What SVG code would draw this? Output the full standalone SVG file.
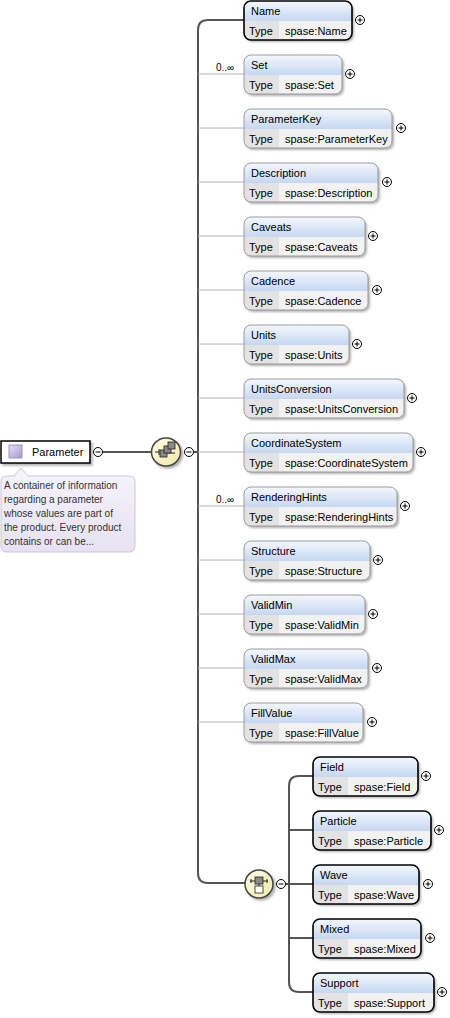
<svg xmlns="http://www.w3.org/2000/svg" width="450" height="1018" viewBox="0 0 450 1018">
<defs>
<linearGradient id="hdr" x1="0" y1="0" x2="0" y2="1"><stop offset="0" stop-color="#f4f8fe"/><stop offset="1" stop-color="#c6d7f1"/></linearGradient>
<linearGradient id="bubble" x1="0" y1="0" x2="1" y2="1"><stop offset="0" stop-color="#fffde8"/><stop offset="1" stop-color="#f1e9a8"/></linearGradient>
<linearGradient id="doc" x1="0" y1="0" x2="0" y2="1"><stop offset="0" stop-color="#f6f4fb"/><stop offset="1" stop-color="#e6e2f2"/></linearGradient>
<linearGradient id="ico" x1="0" y1="0" x2="1" y2="1"><stop offset="0" stop-color="#e6def6"/><stop offset="1" stop-color="#a99bd0"/></linearGradient>
<filter id="sh" x="-10%" y="-10%" width="130%" height="140%"><feDropShadow dx="2" dy="2" stdDeviation="1.2" flood-color="#000" flood-opacity="0.3"/></filter>
<g id="plus"><circle r="4.5" fill="#fff" stroke="#000" stroke-width="1"/><path d="M-2.5,0H2.5M0,-2.5V2.5" stroke="#000" stroke-width="1"/></g>
<g id="minus"><circle r="4.5" fill="#fff" stroke="#000" stroke-width="1"/><path d="M-2.5,0H2.5" stroke="#000" stroke-width="1"/></g>
</defs>
<style>
text{font-family:"Liberation Sans",Arial,sans-serif;font-size:11px;fill:#000}
.doc{font-size:10px;fill:#333}
.hd{fill:url(#hdr)}
.tc{fill:#e3e3e3}
.frm{fill:none;stroke:#9a9a9a;stroke-width:1}
.frm.req{stroke:#000;stroke-width:1.6}
.bg{fill:#f2f2f2;filter:url(#sh)}
.br{fill:none;stroke:#b4b4b4;stroke-width:1}
.sp{fill:none;stroke:#555;stroke-width:2}
</style>

<g id="connectors">
<path class="sp" d="M103,452H151"/>
<path class="sp" d="M194,452H198"/>
<path class="sp" d="M244,20H208Q198,20 198,30V873Q198,883 208,883H245"/>
<path class="br" d="M198,74H244M198,128H244M198,182H244M198,236H244M198,290H244M198,344H244M198,398H244M198,452H244M198,506H244M198,560H244M198,614H244M198,668H244M198,722H244"/>
<path class="sp" d="M286,884H289"/>
<path class="sp" d="M313,776H299Q289,776 289,786V982Q289,992 299,992H313M289,830H313M289,884H313M289,938H313"/>
<text x="216" y="71" style="font-size:10px">0..∞</text>
<text x="216" y="503" style="font-size:10px">0..∞</text>
</g>

<g id="Parameter">
<rect x="1" y="441" width="89" height="22" fill="#fff" stroke="#000" stroke-width="1.5" filter="url(#sh)"/>
<rect x="9" y="445" width="13" height="13" fill="url(#ico)" stroke="#8a7fb0" stroke-width="0.8"/>
<text x="32" y="456">Parameter</text>
<use href="#minus" x="98" y="452"/>
</g>

<g id="Parameter-doc">
<path d="M7,476H14L21,468L28,476H129Q135,476 135,482V546Q135,552 129,552H7Q1,552 1,546V482Q1,476 7,476Z" fill="url(#doc)" stroke="#cbc5dd" stroke-width="1"/>
<text class="doc" x="4" y="489">A container of information</text>
<text class="doc" x="4" y="503">regarding a parameter</text>
<text class="doc" x="4" y="517">whose values are part of</text>
<text class="doc" x="4" y="531">the product. Every product</text>
<text class="doc" x="4" y="545">contains or can be...</text>
</g>

<g id="sequence">
<ellipse cx="166" cy="452" rx="14.5" ry="14" fill="url(#bubble)" stroke="#444" stroke-width="1.5" filter="url(#sh)"/>
<path d="M155,452H159M159,449V455" stroke="#222" stroke-width="1" fill="none"/>
<path d="M160,453H175" stroke="#222" stroke-width="1"/>
<rect x="160" y="450" width="7" height="7" fill="#8a8a8a" stroke="#222" stroke-width="0.8"/>
<rect x="164" y="446" width="7" height="7" fill="#8a8a8a" stroke="#222" stroke-width="0.8"/>
<rect x="168" y="442" width="7" height="7" fill="#8a8a8a" stroke="#222" stroke-width="0.8"/>
<use href="#minus" x="189" y="452"/>
</g>

<g id="choice">
<ellipse cx="259" cy="884" rx="14" ry="14" fill="url(#bubble)" stroke="#444" stroke-width="1.5" filter="url(#sh)"/>
<path d="M250,881H268M251,879V883M267,879V883M259,884V886" stroke="#222" stroke-width="1" fill="none"/>
<rect x="255" y="877" width="8" height="7" fill="#8a8a8a" stroke="#222" stroke-width="0.8"/>
<rect x="255" y="886" width="8" height="7" fill="#fff" stroke="#222" stroke-width="0.8"/>
<use href="#minus" x="281" y="884"/>
</g>

<g id="Name">
<rect class="bg" x="244" y="1" width="108" height="39" rx="7"/>
<path class="hd" d="M251,1H345Q352,1 352,8V21H244V8Q244,1 251,1Z"/>
<path class="tc" d="M244,21H279V40H251Q244,40 244,33Z"/>
<rect class="frm req" x="244" y="1" width="108" height="39" rx="7"/>
<text x="251" y="15">Name</text><text x="249" y="35">Type</text><text x="285" y="35">spase:Name</text>
<use href="#plus" x="360" y="20"/>
</g>

<g id="Set">
<rect class="bg" x="244" y="55" width="98" height="39" rx="7"/>
<path class="hd" d="M251,55H335Q342,55 342,62V75H244V62Q244,55 251,55Z"/>
<path class="tc" d="M244,75H279V94H251Q244,94 244,87Z"/>
<rect class="frm" x="244" y="55" width="98" height="39" rx="7"/>
<text x="251" y="69">Set</text><text x="249" y="89">Type</text><text x="285" y="89">spase:Set</text>
<use href="#plus" x="350" y="74"/>
</g>

<g id="ParameterKey">
<rect class="bg" x="244" y="109" width="148" height="39" rx="7"/>
<path class="hd" d="M251,109H385Q392,109 392,116V129H244V116Q244,109 251,109Z"/>
<path class="tc" d="M244,129H279V148H251Q244,148 244,141Z"/>
<rect class="frm" x="244" y="109" width="148" height="39" rx="7"/>
<text x="251" y="123">ParameterKey</text><text x="249" y="143">Type</text><text x="285" y="143">spase:ParameterKey</text>
<use href="#plus" x="401" y="128"/>
</g>

<g id="Description">
<rect class="bg" x="244" y="163" width="134" height="39" rx="7"/>
<path class="hd" d="M251,163H371Q378,163 378,170V183H244V170Q244,163 251,163Z"/>
<path class="tc" d="M244,183H279V202H251Q244,202 244,195Z"/>
<rect class="frm" x="244" y="163" width="134" height="39" rx="7"/>
<text x="251" y="177">Description</text><text x="249" y="197">Type</text><text x="285" y="197">spase:Description</text>
<use href="#plus" x="387" y="182"/>
</g>

<g id="Caveats">
<rect class="bg" x="244" y="217" width="121" height="39" rx="7"/>
<path class="hd" d="M251,217H358Q365,217 365,224V237H244V224Q244,217 251,217Z"/>
<path class="tc" d="M244,237H279V256H251Q244,256 244,249Z"/>
<rect class="frm" x="244" y="217" width="121" height="39" rx="7"/>
<text x="251" y="231">Caveats</text><text x="249" y="251">Type</text><text x="285" y="251">spase:Caveats</text>
<use href="#plus" x="373" y="236"/>
</g>

<g id="Cadence">
<rect class="bg" x="244" y="271" width="124" height="39" rx="7"/>
<path class="hd" d="M251,271H361Q368,271 368,278V291H244V278Q244,271 251,271Z"/>
<path class="tc" d="M244,291H279V310H251Q244,310 244,303Z"/>
<rect class="frm" x="244" y="271" width="124" height="39" rx="7"/>
<text x="251" y="285">Cadence</text><text x="249" y="305">Type</text><text x="285" y="305">spase:Cadence</text>
<use href="#plus" x="377" y="290"/>
</g>

<g id="Units">
<rect class="bg" x="244" y="325" width="105" height="39" rx="7"/>
<path class="hd" d="M251,325H342Q349,325 349,332V345H244V332Q244,325 251,325Z"/>
<path class="tc" d="M244,345H279V364H251Q244,364 244,357Z"/>
<rect class="frm" x="244" y="325" width="105" height="39" rx="7"/>
<text x="251" y="339">Units</text><text x="249" y="359">Type</text><text x="285" y="359">spase:Units</text>
<use href="#plus" x="357" y="344"/>
</g>

<g id="UnitsConversion">
<rect class="bg" x="244" y="379" width="160" height="39" rx="7"/>
<path class="hd" d="M251,379H397Q404,379 404,386V399H244V386Q244,379 251,379Z"/>
<path class="tc" d="M244,399H279V418H251Q244,418 244,411Z"/>
<rect class="frm" x="244" y="379" width="160" height="39" rx="7"/>
<text x="251" y="393">UnitsConversion</text><text x="249" y="413">Type</text><text x="285" y="413">spase:UnitsConversion</text>
<use href="#plus" x="412" y="398"/>
</g>

<g id="CoordinateSystem">
<rect class="bg" x="244" y="433" width="169" height="39" rx="7"/>
<path class="hd" d="M251,433H406Q413,433 413,440V453H244V440Q244,433 251,433Z"/>
<path class="tc" d="M244,453H279V472H251Q244,472 244,465Z"/>
<rect class="frm" x="244" y="433" width="169" height="39" rx="7"/>
<text x="251" y="447">CoordinateSystem</text><text x="249" y="467">Type</text><text x="285" y="467">spase:CoordinateSystem</text>
<use href="#plus" x="421" y="452"/>
</g>

<g id="RenderingHints">
<rect class="bg" x="244" y="487" width="153" height="39" rx="7"/>
<path class="hd" d="M251,487H390Q397,487 397,494V507H244V494Q244,487 251,487Z"/>
<path class="tc" d="M244,507H279V526H251Q244,526 244,519Z"/>
<rect class="frm" x="244" y="487" width="153" height="39" rx="7"/>
<text x="251" y="501">RenderingHints</text><text x="249" y="521">Type</text><text x="285" y="521">spase:RenderingHints</text>
<use href="#plus" x="405" y="506"/>
</g>

<g id="Structure">
<rect class="bg" x="244" y="541" width="126" height="39" rx="7"/>
<path class="hd" d="M251,541H363Q370,541 370,548V561H244V548Q244,541 251,541Z"/>
<path class="tc" d="M244,561H279V580H251Q244,580 244,573Z"/>
<rect class="frm" x="244" y="541" width="126" height="39" rx="7"/>
<text x="251" y="555">Structure</text><text x="249" y="575">Type</text><text x="285" y="575">spase:Structure</text>
<use href="#plus" x="378" y="560"/>
</g>

<g id="ValidMin">
<rect class="bg" x="244" y="595" width="121" height="39" rx="7"/>
<path class="hd" d="M251,595H358Q365,595 365,602V615H244V602Q244,595 251,595Z"/>
<path class="tc" d="M244,615H279V634H251Q244,634 244,627Z"/>
<rect class="frm" x="244" y="595" width="121" height="39" rx="7"/>
<text x="251" y="609">ValidMin</text><text x="249" y="629">Type</text><text x="285" y="629">spase:ValidMin</text>
<use href="#plus" x="373" y="614"/>
</g>

<g id="ValidMax">
<rect class="bg" x="244" y="649" width="124" height="39" rx="7"/>
<path class="hd" d="M251,649H361Q368,649 368,656V669H244V656Q244,649 251,649Z"/>
<path class="tc" d="M244,669H279V688H251Q244,688 244,681Z"/>
<rect class="frm" x="244" y="649" width="124" height="39" rx="7"/>
<text x="251" y="663">ValidMax</text><text x="249" y="683">Type</text><text x="285" y="683">spase:ValidMax</text>
<use href="#plus" x="377" y="668"/>
</g>

<g id="FillValue">
<rect class="bg" x="244" y="703" width="119" height="39" rx="7"/>
<path class="hd" d="M251,703H356Q363,703 363,710V723H244V710Q244,703 251,703Z"/>
<path class="tc" d="M244,723H279V742H251Q244,742 244,735Z"/>
<rect class="frm" x="244" y="703" width="119" height="39" rx="7"/>
<text x="251" y="717">FillValue</text><text x="249" y="737">Type</text><text x="285" y="737">spase:FillValue</text>
<use href="#plus" x="372" y="722"/>
</g>

<g id="Field">
<rect class="bg" x="313" y="757" width="105" height="39" rx="7"/>
<path class="hd" d="M320,757H411Q418,757 418,764V777H313V764Q313,757 320,757Z"/>
<path class="tc" d="M313,777H348V796H320Q313,796 313,789Z"/>
<rect class="frm req" x="313" y="757" width="105" height="39" rx="7"/>
<text x="320" y="771">Field</text><text x="318" y="791">Type</text><text x="354" y="791">spase:Field</text>
<use href="#plus" x="426" y="776"/>
</g>

<g id="Particle">
<rect class="bg" x="313" y="811" width="118" height="39" rx="7"/>
<path class="hd" d="M320,811H424Q431,811 431,818V831H313V818Q313,811 320,811Z"/>
<path class="tc" d="M313,831H348V850H320Q313,850 313,843Z"/>
<rect class="frm req" x="313" y="811" width="118" height="39" rx="7"/>
<text x="320" y="825">Particle</text><text x="318" y="845">Type</text><text x="354" y="845">spase:Particle</text>
<use href="#plus" x="439" y="830"/>
</g>

<g id="Wave">
<rect class="bg" x="313" y="865" width="106" height="39" rx="7"/>
<path class="hd" d="M320,865H412Q419,865 419,872V885H313V872Q313,865 320,865Z"/>
<path class="tc" d="M313,885H348V904H320Q313,904 313,897Z"/>
<rect class="frm req" x="313" y="865" width="106" height="39" rx="7"/>
<text x="320" y="879">Wave</text><text x="318" y="899">Type</text><text x="354" y="899">spase:Wave</text>
<use href="#plus" x="428" y="884"/>
</g>

<g id="Mixed">
<rect class="bg" x="313" y="919" width="108" height="39" rx="7"/>
<path class="hd" d="M320,919H414Q421,919 421,926V939H313V926Q313,919 320,919Z"/>
<path class="tc" d="M313,939H348V958H320Q313,958 313,951Z"/>
<rect class="frm req" x="313" y="919" width="108" height="39" rx="7"/>
<text x="320" y="933">Mixed</text><text x="318" y="953">Type</text><text x="354" y="953">spase:Mixed</text>
<use href="#plus" x="430" y="938"/>
</g>

<g id="Support">
<rect class="bg" x="313" y="973" width="121" height="39" rx="7"/>
<path class="hd" d="M320,973H427Q434,973 434,980V993H313V980Q313,973 320,973Z"/>
<path class="tc" d="M313,993H348V1012H320Q313,1012 313,1005Z"/>
<rect class="frm req" x="313" y="973" width="121" height="39" rx="7"/>
<text x="320" y="987">Support</text><text x="318" y="1007">Type</text><text x="354" y="1007">spase:Support</text>
<use href="#plus" x="442" y="992"/>
</g>
</svg>
